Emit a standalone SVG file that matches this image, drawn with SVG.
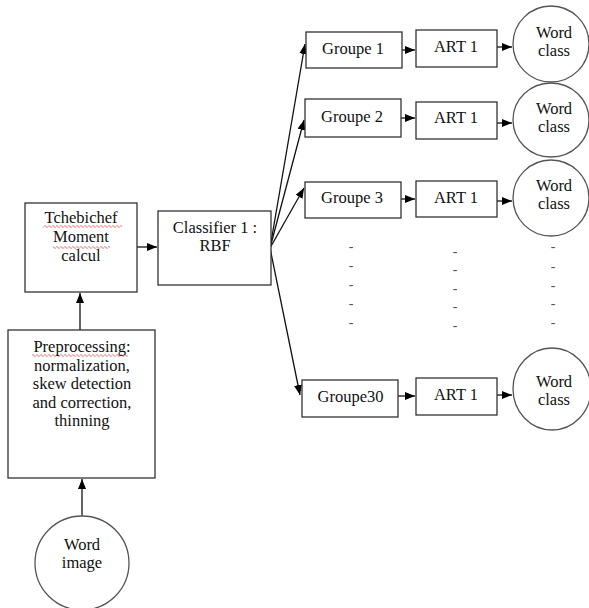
<svg xmlns="http://www.w3.org/2000/svg" width="589" height="608" viewBox="0 0 589 608">
<style>
.box{fill:#fff;stroke:#333;stroke-width:1.3}
.circ{fill:#fff;stroke:#555;stroke-width:1.3}
.t{font-family:"Liberation Serif","Times New Roman",serif;font-size:16.5px;fill:#111;text-anchor:middle}
.d{font-family:"Liberation Serif","Times New Roman",serif;font-size:14px;fill:#555;text-anchor:middle}
.c{stroke:#111;stroke-width:1.3;fill:none;marker-end:url(#ah)}
</style>
<defs>
<marker id="ah" markerUnits="userSpaceOnUse" markerWidth="11" markerHeight="9" refX="10" refY="4" orient="auto"><path d="M0,0 L10,4 L0,8 z" fill="#000"/></marker>
<pattern id="wavy" width="4" height="3" patternUnits="userSpaceOnUse"><path d="M0,1.5 L1,0.5 L3,2.5 L4,1.5" stroke="#e03030" stroke-width="0.8" fill="none"/></pattern>
</defs>
<rect width="589" height="608" fill="#fff"/>
<g id="connectors">
<line class="c" x1="82" y1="516" x2="82" y2="479"/>
<line class="c" x1="80" y1="330" x2="80" y2="293"/>
<line class="c" x1="137" y1="247" x2="157" y2="247"/>
<line class="c" x1="270" y1="248" x2="305" y2="44"/>
<line class="c" x1="270" y1="248" x2="304" y2="120"/>
<line class="c" x1="270" y1="248" x2="304" y2="188"/>
<line class="c" x1="270" y1="248" x2="300" y2="395"/>
<line class="c" x1="402" y1="50" x2="415" y2="50"/>
<line class="c" x1="401" y1="118" x2="415" y2="118"/>
<line class="c" x1="401" y1="199" x2="415" y2="199"/>
<line class="c" x1="398" y1="396" x2="415" y2="396"/>
<line class="c" x1="497" y1="47" x2="512" y2="47"/>
<line class="c" x1="497" y1="123" x2="512" y2="123"/>
<line class="c" x1="497" y1="201" x2="512" y2="201"/>
<line class="c" x1="497" y1="395" x2="512" y2="395"/>
</g>
<g id="word-image">
<circle class="circ" cx="82" cy="563" r="47"/>
<text class="t" x="82" y="550">Word</text>
<text class="t" x="82" y="568">image</text>
</g>
<g id="preprocessing">
<rect class="box" x="8" y="330" width="147" height="148"/>
<rect x="32" y="354" width="96" height="3" fill="url(#wavy)"/>
<text class="t" x="82" y="352">Preprocessing:</text>
<text class="t" x="82" y="370.5">normalization,</text>
<text class="t" x="82" y="389">skew detection</text>
<text class="t" x="82" y="407.5">and correction,</text>
<text class="t" x="82" y="426">thinning</text>
</g>
<g id="tchebichef">
<rect class="box" x="25" y="203" width="112" height="89"/>
<rect x="43" y="225" width="79" height="3" fill="url(#wavy)"/>
<rect x="53" y="246" width="57" height="3" fill="url(#wavy)"/>
<text class="t" x="81" y="223">Tchebichef</text>
<text class="t" x="81" y="242">Moment</text>
<text class="t" x="81" y="261">calcul</text>
</g>
<g id="classifier">
<rect class="box" x="158" y="211" width="113" height="74"/>
<text class="t" x="215" y="233">Classifier 1 :</text>
<text class="t" x="215" y="251">RBF</text>
</g>
<g id="groupe1"><rect class="box" x="306" y="32" width="96" height="36"/><text class="t" x="353" y="54">Groupe 1</text></g>
<g id="groupe2"><rect class="box" x="305" y="99" width="96" height="38"/><text class="t" x="352" y="122">Groupe 2</text></g>
<g id="groupe3"><rect class="box" x="305" y="182" width="96" height="36"/><text class="t" x="352" y="203">Groupe 3</text></g>
<g id="groupe30"><rect class="box" x="302" y="380" width="96" height="37"/><text class="t" x="350.5" y="402">Groupe30</text></g>
<g id="art1a"><rect class="box" x="416" y="30" width="81" height="37"/><text class="t" x="456" y="52">ART 1</text></g>
<g id="art1b"><rect class="box" x="416" y="102" width="81" height="37"/><text class="t" x="456" y="123">ART 1</text></g>
<g id="art1c"><rect class="box" x="416" y="181" width="81" height="36"/><text class="t" x="456" y="203">ART 1</text></g>
<g id="art1d"><rect class="box" x="416" y="378" width="81" height="37"/><text class="t" x="456" y="400">ART 1</text></g>
<g id="class1"><ellipse class="circ" cx="551" cy="44" rx="38" ry="38"/><text class="t" x="554" y="38">Word</text><text class="t" x="554" y="56">class</text></g>
<g id="class2"><ellipse class="circ" cx="551" cy="120" rx="38" ry="37"/><text class="t" x="554" y="114">Word</text><text class="t" x="554" y="132">class</text></g>
<g id="class3"><ellipse class="circ" cx="551" cy="198" rx="38" ry="38"/><text class="t" x="554" y="191">Word</text><text class="t" x="554" y="209">class</text></g>
<g id="class30"><ellipse class="circ" cx="552" cy="389" rx="39" ry="41"/><text class="t" x="554" y="387">Word</text><text class="t" x="554" y="405">class</text></g>
<g id="dashes">
<text class="d" x="351" y="251">-</text><text class="d" x="351" y="270">-</text><text class="d" x="351" y="289">-</text><text class="d" x="351" y="308">-</text><text class="d" x="351" y="327">-</text>
<text class="d" x="455" y="256">-</text><text class="d" x="455" y="274">-</text><text class="d" x="455" y="293">-</text><text class="d" x="455" y="311">-</text><text class="d" x="455" y="330">-</text>
<text class="d" x="553" y="251">-</text><text class="d" x="553" y="271">-</text><text class="d" x="553" y="290">-</text><text class="d" x="553" y="308">-</text><text class="d" x="553" y="327">-</text>
</g>
</svg>
